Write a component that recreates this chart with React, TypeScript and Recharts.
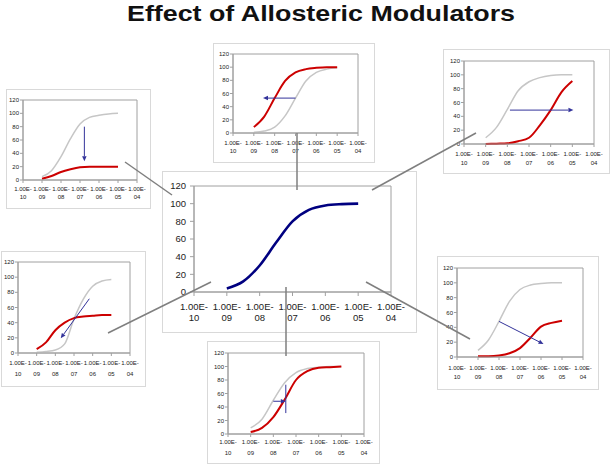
import { LineChart, Line, XAxis, YAxis, ReferenceArea, ReferenceLine } from "recharts"

// log10 of concentration for every plotted point
const xExp = [-9, -8.5, -8, -7.5, -7, -6.5, -6, -5.5, -5]
const xTicks = [-10, -9, -8, -7, -6, -5, -4]
const xTickLabels = ["1.00E-10", "1.00E-09", "1.00E-08", "1.00E-07", "1.00E-06", "1.00E-05", "1.00E-04"]
const yTicks = [0, 20, 40, 60, 80, 100, 120]

const centralCurve = [4, 12, 30, 56, 80, 93, 98, 99.5, 100]

// reduced efficacy (top left)
const tlGray = [5, 14, 35, 62, 84, 94, 97, 99, 100]
const tlRed = [2, 6, 12, 16, 19, 20, 20, 20, 20]
// leftward shift (top middle)
const tmGray = [1, 3, 9, 26, 53, 79, 92, 97, 99]
const tmRed = [9, 25, 53, 79, 92, 97, 99, 100, 100]
// rightward shift (top right)
const trGray = [9, 24, 50, 77, 90, 96, 99, 100, 100]
const trRed = [0, 0.5, 1, 4, 9, 27, 49, 75, 91]
// left shift + lower max (middle left)
const mlGray = [1, 2, 4, 12, 45, 71, 88, 95, 97]
const mlRed = [5, 14, 30, 40, 46, 48, 49, 50, 50]
// right shift + lower max (middle right)
const mrGray = [9, 23, 48, 75, 91, 97, 99, 100, 100]
const mrRed = [1, 1, 2, 5, 12, 26, 41, 46, 49]
// small shift (bottom middle)
const bmGray = [9, 22, 50, 76, 91, 97, 99, 100, 100]
const bmRed = [3, 9, 25, 51, 80, 93, 98, 99, 100]

const RED = "#cc0000"
const GRAY = "#c6c6c6"
const NAVY = "#000080"
const ARROW = "#33339a"
const FONT = "'Liberation Sans', Arial, sans-serif"

type Arrow = { x1: number; y1: number; x2: number; y2: number; head: boolean }

function build(gray: number[] | null, main: number[]) {
  return xExp.map((x, i) => ({ x, g: gray ? gray[i] : null, m: main[i] }))
}

function arrowShape(head: boolean, hl: number) {
  return (p: any) => {
    const { x1, y1, x2, y2 } = p
    const dx = x2 - x1
    const dy = y2 - y1
    const len = Math.hypot(dx, dy) || 1
    const ux = dx / len
    const uy = dy / len
    const bx = x2 - ux * hl
    const by = y2 - uy * hl
    const hw = hl * 0.45
    return (
      <g>
        <line x1={x1} y1={y1} x2={head ? bx : x2} y2={head ? by : y2} stroke={ARROW} strokeWidth={1} />
        {head && (
          <polygon
            points={`${x2},${y2} ${bx - uy * hw},${by + ux * hw} ${bx + uy * hw},${by - ux * hw}`}
            fill={ARROW}
          />
        )}
      </g>
    )
  }
}

interface PanelCfg {
  box: [number, number, number, number]
  plot: [number, number, number, number]
  data: { x: number; g: number | null; m: number }[]
  mainColor: string
  mainWidth: number
  fs: number
  tickSize: number
  yGap: number
  lab: [number, number]
  arrows: Arrow[]
}

function Panel({ cfg }: { cfg: PanelCfg }) {
  const { box, plot, data, fs, tickSize, yGap, lab, arrows } = cfg
  const w = box[2] - box[0]
  const h = box[3] - box[1]
  const XTick = (p: any) => {
    const base = p.y - tickSize
    const i = xTicks.indexOf(p.payload.value)
    const s = xTickLabels[i] ?? ""
    return (
      <g>
        <text x={p.x} y={base + lab[0]} textAnchor="middle" dominantBaseline="central" fontSize={fs} fill="#222" fontFamily={FONT}>
          {s.slice(0, 6)}
        </text>
        <text x={p.x} y={base + lab[1]} textAnchor="middle" dominantBaseline="central" fontSize={fs} fill="#222" fontFamily={FONT}>
          {s.slice(6)}
        </text>
      </g>
    )
  }
  return (
    <>
      <div
        style={{
          position: "absolute",
          left: box[0],
          top: box[1],
          width: w,
          height: h,
          border: "1px solid #d9d9d9",
          boxSizing: "border-box",
          background: "#fff",
        }}
      />
      <div style={{ position: "absolute", left: box[0], top: box[1] }}>
        <LineChart
          width={w}
          height={h}
          data={data}
          margin={{ top: plot[1] - box[1], right: box[2] - plot[2], left: 0, bottom: 0 }}
        >
          <ReferenceArea x1={-10} x2={-4} y1={0} y2={120} fill="none" stroke="#a0a0a0" strokeWidth={1} />
          <XAxis
            dataKey="x"
            type="number"
            domain={[-10, -4]}
            ticks={xTicks}
            interval={0}
            height={box[3] - plot[3]}
            tickSize={tickSize}
            tickMargin={0}
            axisLine={{ stroke: "#a0a0a0" }}
            tickLine={{ stroke: "#a0a0a0" }}
            tick={XTick}
          />
          <YAxis
            type="number"
            domain={[0, 120]}
            ticks={yTicks}
            interval={0}
            width={plot[0] - box[0]}
            tickSize={tickSize}
            tickMargin={yGap}
            axisLine={{ stroke: "#a0a0a0" }}
            tickLine={{ stroke: "#a0a0a0" }}
            tick={{ fontSize: fs, fill: "#222", fontFamily: FONT }}
          />
          {data[0].g !== null && (
            <Line type="monotone" dataKey="g" stroke={GRAY} strokeWidth={1.5} dot={false} isAnimationActive={false} />
          )}
          <Line
            type="monotone"
            dataKey="m"
            stroke={cfg.mainColor}
            strokeWidth={cfg.mainWidth}
            dot={false}
            isAnimationActive={false}
          />
          {arrows.map((a, i) => (
            <ReferenceLine
              key={i}
              segment={[
                { x: a.x1, y: a.y1 },
                { x: a.x2, y: a.y2 },
              ]}
              ifOverflow="visible"
              shape={arrowShape(a.head, 5)}
            />
          ))}
        </LineChart>
      </div>
    </>
  )
}

const panels: PanelCfg[] = [
  {
    box: [162, 171, 417, 333],
    plot: [194, 186, 391, 292],
    data: build(null, centralCurve),
    mainColor: NAVY,
    mainWidth: 2.6,
    fs: 9.5,
    tickSize: 4,
    yGap: 4,
    lab: [14, 25.3],
    arrows: [],
  },
  {
    box: [6, 89, 151, 209],
    plot: [23, 100, 137, 180],
    data: build(tlGray, tlRed),
    mainColor: RED,
    mainWidth: 2,
    fs: 6,
    tickSize: 3,
    yGap: 1,
    lab: [9.3, 17.3],
    arrows: [{ x1: -6.77, y1: 80, x2: -6.77, y2: 28, head: true }],
  },
  {
    box: [213, 43, 375, 163],
    plot: [233, 54, 358, 133],
    data: build(tmGray, tmRed),
    mainColor: RED,
    mainWidth: 2,
    fs: 6,
    tickSize: 3,
    yGap: 1,
    lab: [9.7, 18],
    arrows: [{ x1: -7, y1: 53, x2: -8.56, y2: 53, head: true }],
  },
  {
    box: [443, 49, 610, 174],
    plot: [464, 61, 594, 144],
    data: build(trGray, trRed),
    mainColor: RED,
    mainWidth: 2,
    fs: 6,
    tickSize: 3,
    yGap: 1,
    lab: [10, 19],
    arrows: [{ x1: -7.88, y1: 49, x2: -4.95, y2: 49, head: true }],
  },
  {
    box: [1, 251, 146, 387],
    plot: [18, 262, 130, 353],
    data: build(mlGray, mlRed),
    mainColor: RED,
    mainWidth: 2,
    fs: 6,
    tickSize: 3,
    yGap: 1,
    lab: [9.7, 21],
    arrows: [{ x1: -6.18, y1: 71.5, x2: -7.71, y2: 19.4, head: true }],
  },
  {
    box: [207, 341, 380, 464],
    plot: [228, 353, 364, 434],
    data: build(bmGray, bmRed),
    mainColor: RED,
    mainWidth: 2,
    fs: 6,
    tickSize: 3,
    yGap: 1,
    lab: [7.5, 18.7],
    arrows: [
      { x1: -8, y1: 48.5, x2: -7.45, y2: 48.5, head: true },
      { x1: -7.45, y1: 73, x2: -7.45, y2: 31, head: false },
    ],
  },
  {
    box: [437, 256, 599, 390],
    plot: [457, 268, 583, 357],
    data: build(mrGray, mrRed),
    mainColor: RED,
    mainWidth: 2,
    fs: 6,
    tickSize: 3,
    yGap: 1,
    lab: [10.7, 20],
    arrows: [{ x1: -8, y1: 48, x2: -5.88, y2: 17.5, head: true }],
  },
]

// connector lines from the central chart to each modulated chart
const connectors: [number, number, number, number][] = [
  [125, 162, 172, 195],
  [297, 133, 297, 190],
  [476, 133, 372, 190],
  [211, 282, 108, 333],
  [286, 287, 286, 356],
  [366, 282, 470, 339],
]

export default function App() {
  return (
    <div style={{ position: "relative", width: 611, height: 465, background: "#fff", overflow: "hidden" }}>
      <style>{"body{margin:0}"}</style>
      <svg width={611} height={34} style={{ position: "absolute", left: 0, top: 0 }}>
        <text
          x={127}
          y={20.5}
          textLength={388}
          lengthAdjust="spacingAndGlyphs"
          fontSize={22.5}
          fontWeight="bold"
          fontFamily={FONT}
          fill="#111"
        >
          Effect of Allosteric Modulators
        </text>
      </svg>
      {panels.map((p, i) => (
        <Panel key={i} cfg={p} />
      ))}
      <svg width={611} height={465} style={{ position: "absolute", left: 0, top: 0, pointerEvents: "none" }}>
        {connectors.map((c, i) => (
          <line key={i} x1={c[0]} y1={c[1]} x2={c[2]} y2={c[3]} stroke="#7f7f7f" strokeWidth={1.5} />
        ))}
      </svg>
    </div>
  )
}
